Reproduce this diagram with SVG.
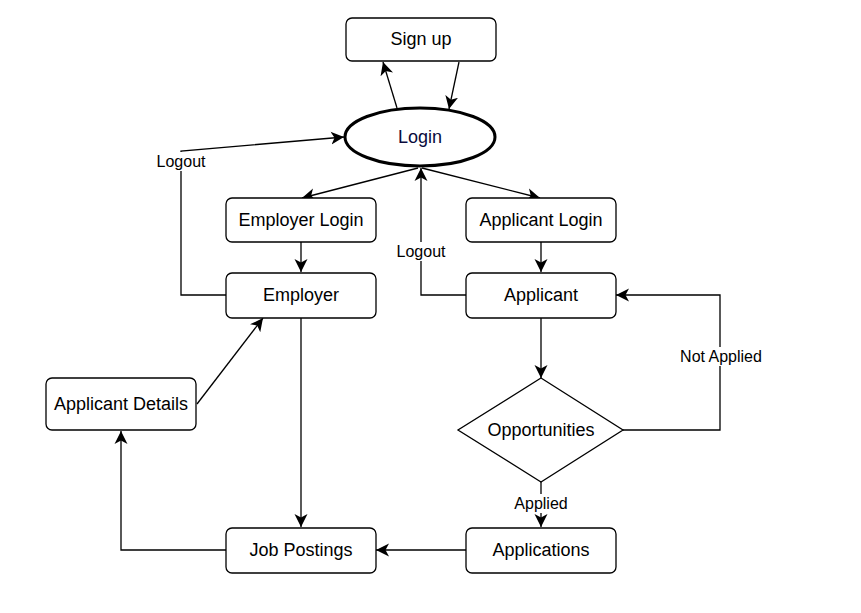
<svg xmlns="http://www.w3.org/2000/svg" width="861" height="613" viewBox="0 0 861 613">
<style>
.box{fill:#fff;stroke:#000;stroke-width:1.3}
.t{font-family:"Liberation Sans",Arial,sans-serif;font-size:18px;fill:#000;text-anchor:middle}
.lt{font-family:"Liberation Sans",Arial,sans-serif;font-size:16px;fill:#000;text-anchor:middle}
.c{fill:none;stroke:#000;stroke-width:1.3;marker-end:url(#a)}
.lb{fill:#fff}
</style>
<defs>
<marker id="a" markerUnits="userSpaceOnUse" markerWidth="15" markerHeight="14" viewBox="0 0 15 14" refX="13" refY="7" orient="auto">
<path d="M0,0.5 L13,7 L0,13.5 L3.5,7 Z" fill="#000"/>
</marker>
</defs>
<rect width="861" height="613" fill="#fff"/>
<g id="connectors">
<line class="c" x1="397" y1="108" x2="383" y2="62"/>
<line class="c" x1="459" y1="62" x2="449" y2="109"/>
<line class="c" x1="418" y1="168" x2="302" y2="198"/>
<line class="c" x1="422" y1="168" x2="540" y2="198"/>
<line class="c" x1="301" y1="242" x2="301" y2="272"/>
<line class="c" x1="541" y1="242" x2="541" y2="272"/>
<polyline class="c" points="226,295 181,295 181,151 344,137"/>
<polyline class="c" points="466,295 421,295 421,168"/>
<line class="c" x1="541" y1="318" x2="541" y2="378"/>
<polyline class="c" points="623,430 720,430 720,295 616,295"/>
<line class="c" x1="541" y1="482" x2="541" y2="527"/>
<line class="c" x1="466" y1="550" x2="376" y2="550"/>
<line class="c" x1="301" y1="318" x2="301" y2="527"/>
<polyline class="c" points="226,550 121,550 121,431"/>
<line class="c" x1="197" y1="404" x2="263" y2="318"/>
<rect class="lb" x="155" y="152" width="52" height="19"/>
<text class="lt" x="181" y="167">Logout</text>
<rect class="lb" x="395" y="242" width="52" height="19"/>
<text class="lt" x="421" y="257">Logout</text>
<rect class="lb" x="678" y="347" width="86" height="19"/>
<text class="lt" x="721" y="362">Not Applied</text>
<rect class="lb" x="512" y="494" width="58" height="19"/>
<text class="lt" x="541" y="509">Applied</text>
</g>
<g id="signup"><rect class="box" x="346" y="18" width="150" height="43" rx="6"/><text class="t" x="421" y="45">Sign up</text></g>
<g id="login"><ellipse cx="420" cy="137" rx="75" ry="29" fill="#fff" stroke="#000" stroke-width="3"/><text class="t" x="420" y="142.5" style="fill:#0a0a3c">Login</text></g>
<g id="employer-login"><rect class="box" x="226" y="198" width="150" height="44" rx="6"/><text class="t" x="301" y="225.5">Employer Login</text></g>
<g id="applicant-login"><rect class="box" x="466" y="198" width="150" height="44" rx="6"/><text class="t" x="541" y="225.5">Applicant Login</text></g>
<g id="employer"><rect class="box" x="226" y="273" width="150" height="45" rx="6"/><text class="t" x="301" y="300.5">Employer</text></g>
<g id="applicant"><rect class="box" x="466" y="273" width="150" height="45" rx="6"/><text class="t" x="541" y="300.5">Applicant</text></g>
<g id="opportunities"><polygon points="541,378 623,430 541,482 458,430" fill="#fff" stroke="#000" stroke-width="1.3"/><text class="t" x="541" y="435.5">Opportunities</text></g>
<g id="applicant-details"><rect class="box" x="46" y="378" width="150" height="52" rx="6"/><text class="t" x="121" y="409.5">Applicant Details</text></g>
<g id="job-postings"><rect class="box" x="226" y="528" width="150" height="45" rx="6"/><text class="t" x="301" y="555.5">Job Postings</text></g>
<g id="applications"><rect class="box" x="466" y="528" width="150" height="45" rx="6"/><text class="t" x="541" y="555.5">Applications</text></g>
</svg>
